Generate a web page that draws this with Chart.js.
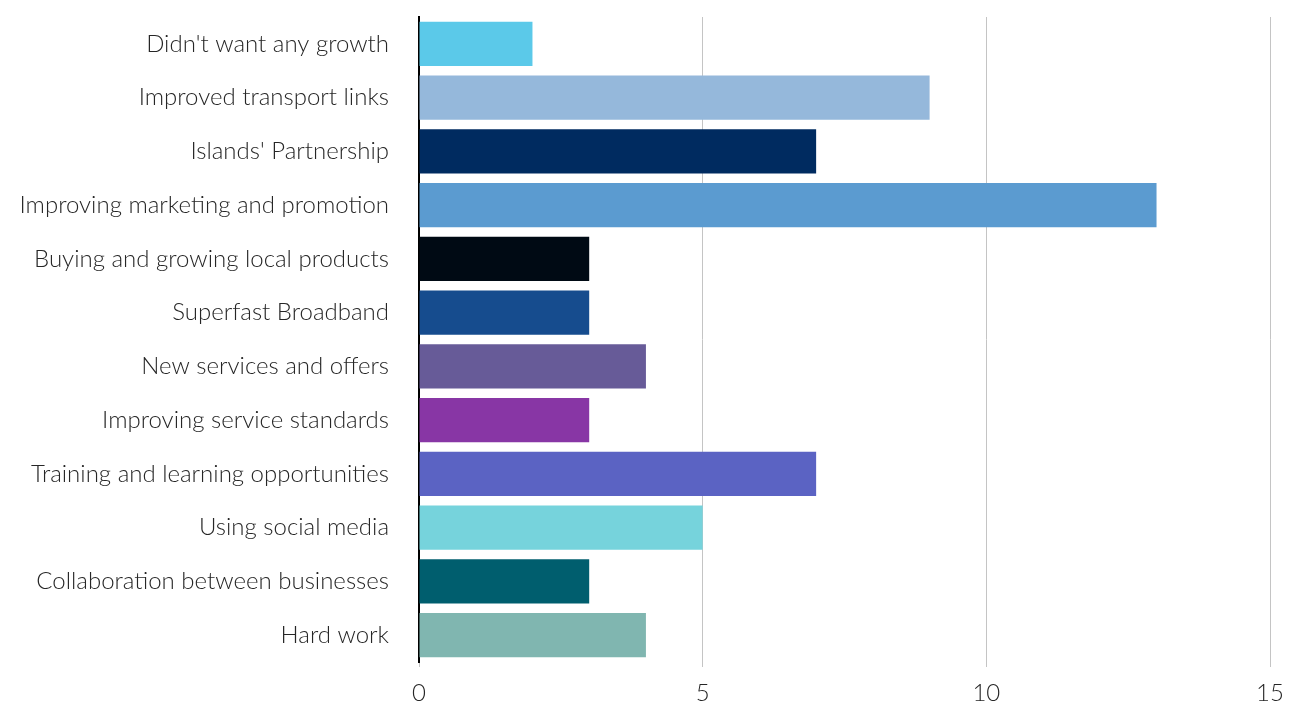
<!DOCTYPE html>
<html>
<head>
<meta charset="utf-8">
<script src="https://cdn.jsdelivr.net/npm/chart.js@4/dist/chart.umd.min.js"></script>
<style>
  html, body { margin: 0; padding: 0; background: #fff; }
  #wrap { width: 1297px; height: 706px; }
</style>
</head>
<body>
<div id="wrap"><canvas id="growthChart"></canvas></div>
<script>
// what helped businesses grow (number of responses)
const categories = [
  "Didn't want any growth",
  "Improved transport links",
  "Islands' Partnership",
  "Improving marketing and promotion",
  "Buying and growing local products",
  "Superfast Broadband",
  "New services and offers",
  "Improving service standards",
  "Training and learning opportunities",
  "Using social media",
  "Collaboration between businesses",
  "Hard work"
]
const responses = [2, 9, 7, 13, 3, 3, 4, 3, 7, 5, 3, 4]
const xTicks = [0, 5, 10, 15]

const barColours = [
  '#5BC9E9', '#95B8DB', '#002B60', '#5B9BD0',
  '#000A14', '#164C8E', '#675B98', '#8836A5',
  '#5B63C3', '#76D3DC', '#005E6E', '#80B6B0'
]

const fontFamily = "Lato, 'Open Sans', sans-serif"

const chart = new Chart(document.getElementById('growthChart'), {
  type: 'bar',
  data: {
    labels: categories,
    datasets: [{
      data: responses,
      backgroundColor: barColours,
      borderWidth: 0,
      barPercentage: 0.82,
      categoryPercentage: 1
    }]
  },
  options: {
    indexAxis: 'y',
    responsive: true,
    maintainAspectRatio: false,
    animation: false,
    layout: { padding: { top: 17, right: 27, left: 0, bottom: 0 } },
    plugins: {
      legend: { display: false },
      tooltip: { enabled: false }
    },
    scales: {
      x: {
        min: 0,
        max: 15,
        afterBuildTicks: (scale) => { scale.ticks = xTicks.map(v => ({ value: v })) },
        grid: {
          color: '#C4C4C4',
          lineWidth: 1,
          drawTicks: true,
          tickLength: 5,
          tickColor: '#C4C4C4'
        },
        border: { display: false },
        ticks: {
          color: '#262626',
          padding: 12,
          font: { family: fontFamily, size: 24, weight: 300 }
        },
        afterFit: (scale) => {
          scale.height = 44
          scale.paddingLeft = 0
          scale.paddingRight = 0
        }
      },
      y: {
        grid: { display: false },
        border: { display: true, color: '#000', width: 2 },
        ticks: {
          color: '#262626',
          padding: 22,
          font: { family: fontFamily, size: 24, weight: 300 }
        },
        afterFit: (scale) => {
          scale.width = 419
          scale.paddingTop = 0
          scale.paddingBottom = 0
        }
      }
    }
  }
})
</script>
</body>
</html>
